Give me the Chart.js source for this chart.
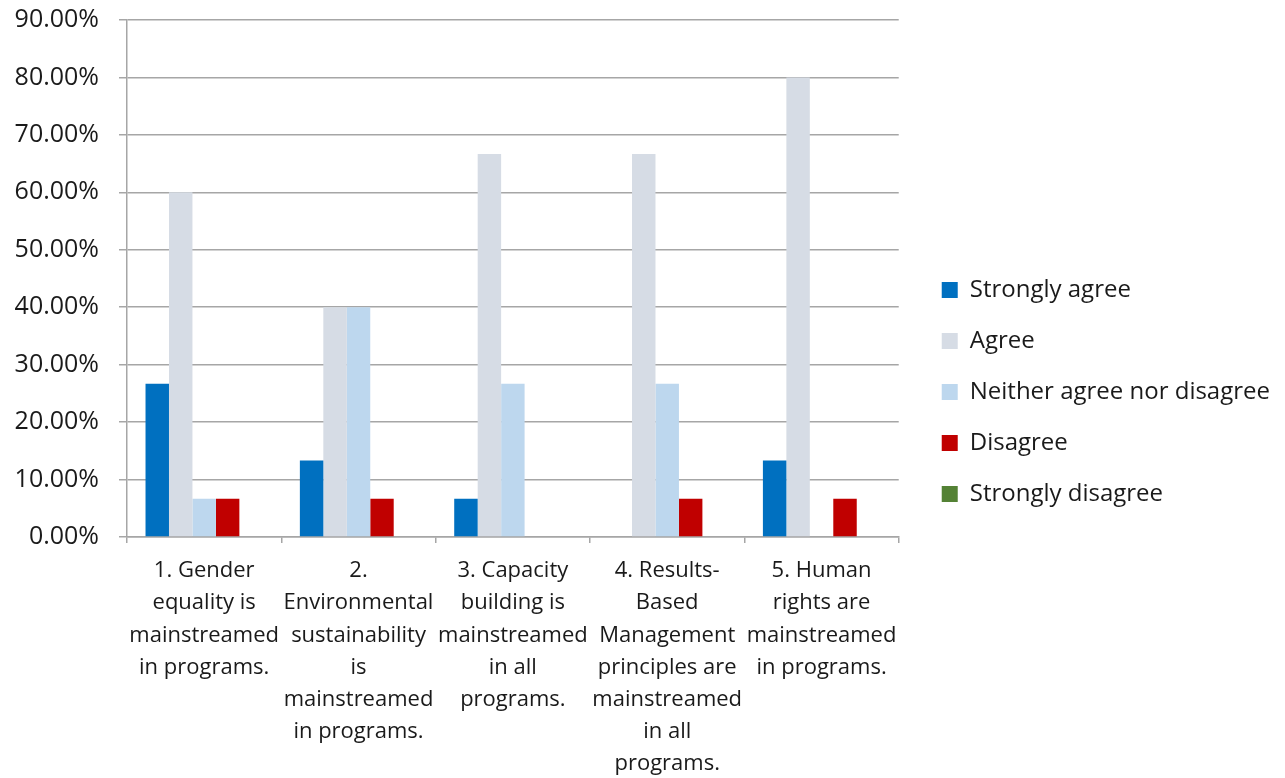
<!DOCTYPE html>
<html>
<head>
<meta charset="utf-8">
<title>Mainstreaming survey</title>
<script src="https://cdn.jsdelivr.net/npm/chart.js@4/dist/chart.umd.min.js"></script>
<style>
  html, body { margin: 0; padding: 0; background: #fff; }
  #wrap { width: 1285px; height: 778px; }
</style>
</head>
<body>
<div id="wrap"><canvas id="chart" width="1285" height="778"></canvas></div>
<script>
// categories (x axis labels, pre-wrapped like the source sheet)
const categories = [
  ['1. Gender', 'equality is', 'mainstreamed', 'in programs.'],
  ['2.', 'Environmental', 'sustainability', 'is', 'mainstreamed', 'in programs.'],
  ['3. Capacity', 'building is', 'mainstreamed', 'in all', 'programs.'],
  ['4. Results-', 'Based', 'Management', 'principles are', 'mainstreamed', 'in all', 'programs.'],
  ['5. Human', 'rights are', 'mainstreamed', 'in programs.'],
];

// share of respondents, in percent
const stronglyAgree    = [26.67, 13.33, 6.67, 0, 13.33];
const agree            = [60, 40, 66.67, 66.67, 80];
const neither          = [6.67, 40, 26.67, 26.67, 0];
const disagree         = [6.67, 6.67, 0, 6.67, 6.67];
const stronglyDisagree = [0, 0, 0, 0, 0];

const yTicks = [0, 10, 20, 30, 40, 50, 60, 70, 80, 90];

const FONT = "'Open Sans', 'Noto Sans', sans-serif";
const GRID = '#A6A6A6';
const TEXT = '#1a1a1a';

// nudges the legend away from the plot area and up a little,
// and lets it run to the canvas edge so long labels aren't clipped
const legendGap = {
  id: 'legendGap',
  afterLayout(chart) {
    const lg = chart.legend;
    if (!lg) return;
    lg.left += 16;
    lg.right = chart.width;
    lg.top -= 7;
    lg.bottom -= 7;
  }
};

const series = (label, data, color) => ({
  label,
  data,
  backgroundColor: color,
  borderWidth: 0,
});

new Chart(document.getElementById('chart'), {
  type: 'bar',
  data: {
    labels: categories,
    datasets: [
      series('Strongly agree', stronglyAgree, '#0070C0'),
      series('Agree', agree, '#D6DCE5'),
      series('Neither agree nor disagree', neither, '#BDD7EE'),
      series('Disagree', disagree, '#C00000'),
      series('Strongly disagree', stronglyDisagree, '#548235'),
    ],
  },
  options: {
    responsive: false,
    animation: false,
    devicePixelRatio: 1,
    categoryPercentage: 0.76,
    barPercentage: 1,
    layout: { padding: { top: 20, left: 0, right: 21, bottom: 0 } },
    scales: {
      x: {
        grid: {
          offset: true,
          drawOnChartArea: false,
          color: GRID,
          tickLength: 6,
          lineWidth: 1.5,
        },
        border: { color: GRID, width: 1.5 },
        ticks: {
          color: TEXT,
          maxRotation: 0,
          autoSkip: false,
          padding: 12,
          font: { family: FONT, size: 22, lineHeight: 1.46 },
        },
        afterFit(s) {
          s.height = 778 - 537;
          s.paddingLeft = 0;
          s.paddingRight = 0;
        },
      },
      y: {
        min: 0,
        max: 90,
        afterBuildTicks(s) {
          s.ticks = yTicks.map(v => ({ value: v }));
        },
        grid: { color: GRID, tickLength: 8, lineWidth: 1.5 },
        border: { color: GRID, width: 1.5 },
        ticks: {
          color: TEXT,
          padding: 20,
          font: { family: FONT, size: 25 },
          callback: v => v.toFixed(2) + '%',
        },
        afterFit(s) {
          s.width = 127;
          s.paddingTop = 0;
          s.paddingBottom = 0;
        },
      },
    },
    plugins: {
      legend: {
        position: 'right',
        maxWidth: 1285 - 898 - 21,
        labels: {
          color: TEXT,
          boxWidth: 16,
          boxHeight: 16,
          padding: 27,
          font: { family: FONT, size: 24 },
        },
      },
      tooltip: { enabled: false },
    },
  },
  plugins: [legendGap],
});
</script>
</body>
</html>
